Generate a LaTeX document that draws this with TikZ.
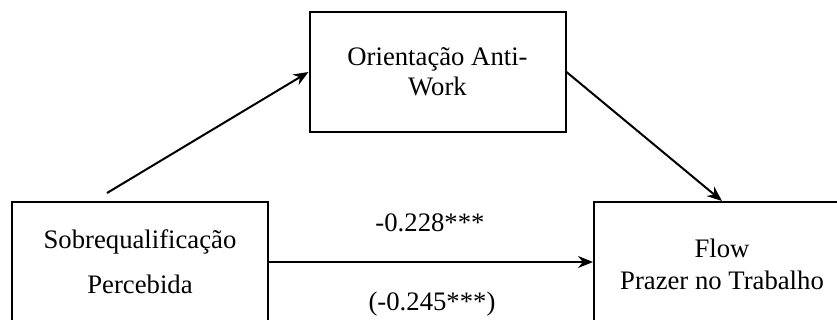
\documentclass[tikz,border=0pt]{standalone}
\usepackage{fontspec}
\setmainfont{Liberation Serif}
\usetikzlibrary{arrows.meta}
\begin{document}
\begin{tikzpicture}[x=1pt,y=-1pt,
  box/.style={draw,line width=2pt,minimum width=256pt,inner sep=0pt,align=center,
    font=\fontsize{26.7}{30}\selectfont},
  conn/.style={line width=2pt,-{Stealth[length=15pt,width=12pt]}},
  lbl/.style={font=\fontsize{26.7}{30}\selectfont}]
\clip (0,0) rectangle (837,320);
\node[box,minimum height=120pt] (top) at (437.5,72) {Orientação Anti-\\Work};
\node[box,minimum height=120pt,font=\fontsize{26.7}{45}\selectfont] (left) at (140,262) {Sobrequalificação\\Percebida};
\node[box,minimum height=124pt,font=\fontsize{26.7}{32}\selectfont] (right) at (722,264) {Flow\\Prazer no Trabalho};
\coordinate (start) at (107,193);
\draw[conn] (start) -- (top.west);
\draw[conn] (top.east) -- (right.north);
\draw[conn] (left.east) -- (left.east -| right.west);
\node[lbl] (b1) at (430,223) {-0.228***};
\node[lbl] (b2) at (432,304) {(-0.245***)};
\end{tikzpicture}
\end{document}
